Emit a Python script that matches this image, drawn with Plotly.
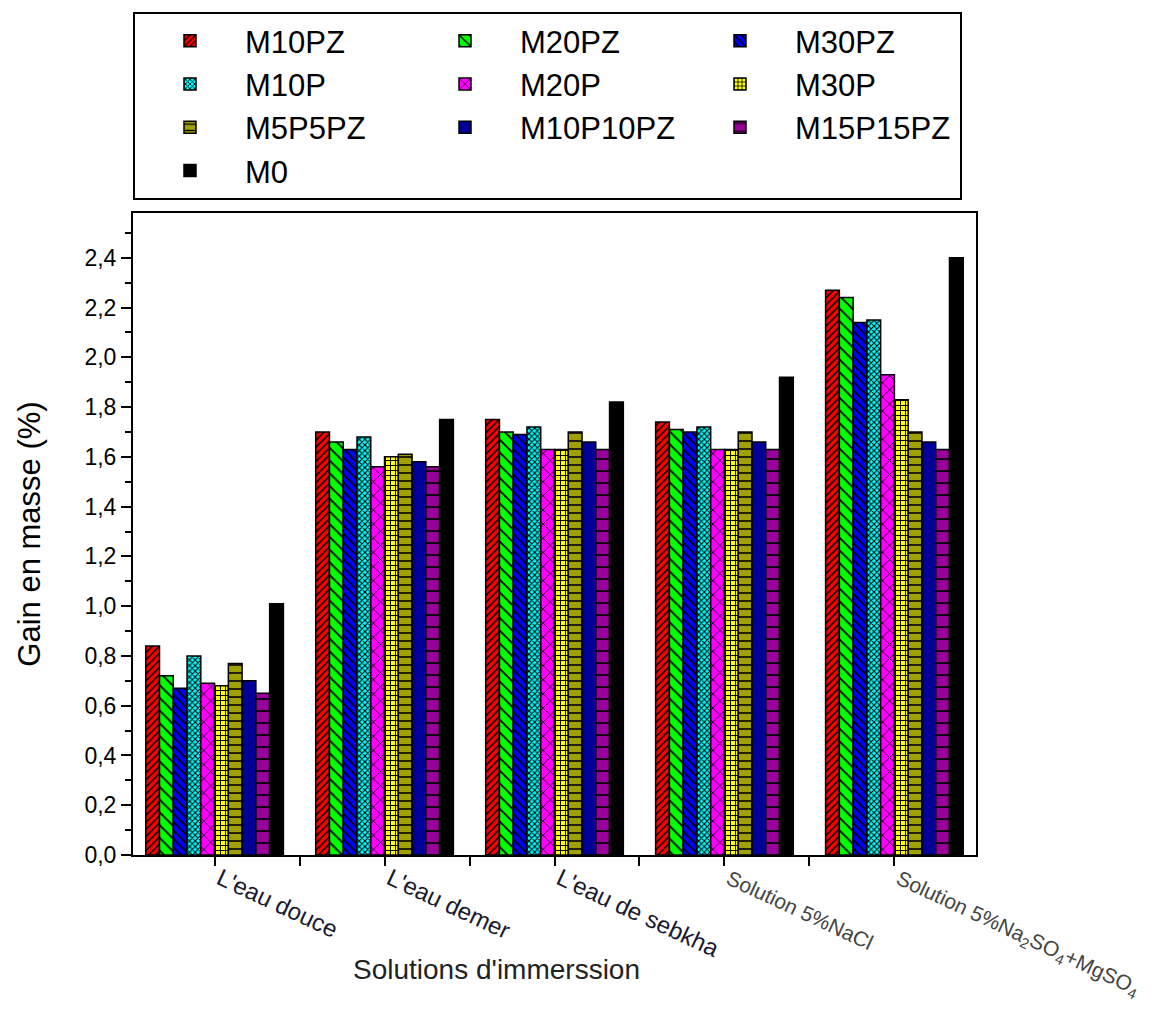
import plotly.graph_objects as go

categories = ["L'eau douce", "L'eau demer", "L'eau de sebkha", "Solution 5%NaCl",
              "Solution 5%Na<sub>2</sub>SO<sub>4</sub>+MgSO<sub>4</sub>"]

series_names = ["M10PZ", "M20PZ", "M30PZ", "M10P", "M20P", "M30P",
                "M5P5PZ", "M10P10PZ", "M15P15PZ", "M0"]

M10PZ = [0.84, 1.70, 1.75, 1.74, 2.27]
M20PZ = [0.72, 1.66, 1.70, 1.71, 2.24]
M30PZ = [0.67, 1.63, 1.69, 1.70, 2.14]
M10P = [0.80, 1.68, 1.72, 1.72, 2.15]
M20P = [0.69, 1.56, 1.63, 1.63, 1.93]
M30P = [0.68, 1.60, 1.63, 1.63, 1.83]
M5P5PZ = [0.77, 1.61, 1.70, 1.70, 1.70]
M10P10PZ = [0.70, 1.58, 1.66, 1.66, 1.66]
M15P15PZ = [0.65, 1.56, 1.63, 1.63, 1.63]
M0 = [1.01, 1.75, 1.82, 1.92, 2.40]

values = [M10PZ, M20PZ, M30PZ, M10P, M20P, M30P, M5P5PZ, M10P10PZ, M15P15PZ, M0]

colors = ["#FF0000", "#00FF00", "#0000FF", "#00FFFF", "#FF00FF", "#FFFF00",
          "#A0A000", "#000099", "#990099", "#000000"]
patterns = ["/", "\\", "\\", "x", "x", "+", "-", "", "-", ""]
pattern_sizes = [5, 9, 6, 4, 10, 5, 8, 8, 12, 8]
pattern_solid = [0.3, 0.2, 0.3, 0.45, 0.15, 0.35, 0.2, 0.2, 0.15, 0.2]

xpos = list(range(len(categories)))

# first three labels drawn a little larger/darker, last two smaller/greyer (as in the source)
tick_text = [
    f'<span style="font-size:{24 if i < 3 else 21}px;fill:{"#1a1a2e" if i < 3 else "#444"}">{c}</span>'
    for i, c in enumerate(categories)
]

fig = go.Figure()
for name, vals, col, pat, psz, psol in zip(series_names, values, colors, patterns,
                                           pattern_sizes, pattern_solid):
    fig.add_trace(go.Bar(
        name=name, x=xpos, y=vals,
        marker=dict(color=col, line=dict(color="black", width=1.5),
                    pattern=dict(shape=pat, size=psz, solidity=psol,
                                 fgcolor="black", bgcolor=col, fillmode="overlay",
                                 fgopacity=1)),
    ))

fig.update_layout(
    width=1158, height=1014,
    margin=dict(l=133, r=182, t=213, b=159, autoexpand=False),
    paper_bgcolor="white", plot_bgcolor="white",
    barmode="group", bargap=0.19, bargroupgap=0,
    separators=", ",
    font=dict(family="Liberation Sans, Arial, sans-serif", color="black"),
    showlegend=True,
    legend=dict(
        orientation="h", x=0, xanchor="left", y=1.313, yanchor="top",
        font=dict(size=31, family="Liberation Sans, Arial, sans-serif"),
        bordercolor="black", borderwidth=2, bgcolor="white",
        entrywidth=160, entrywidthmode="pixels", itemwidth=100,
        traceorder="normal", tracegroupgap=0,
    ),
)

fig.update_xaxes(
    range=[-0.48, 4.48], automargin=False,
    tickmode="array", tickvals=xpos, ticktext=tick_text,
    tickangle=25, tickfont=dict(size=22, color="#222"),
    ticklabelstandoff=-8, ticklabelshift=5,
    ticks="outside", ticklen=9, tickwidth=2, tickcolor="black",
    minor=dict(dtick=0.5, tick0=0.5, ticks="outside", ticklen=9, tickwidth=2, tickcolor="black"),
    showline=True, linecolor="black", linewidth=2, mirror=True,
    showgrid=False, zeroline=False,
)
fig.update_yaxes(
    range=[0, 2.58], dtick=0.2, tick0=0, tickformat=".1f", automargin=False,
    tickfont=dict(size=23),
    ticks="outside", ticklen=10, tickwidth=2, tickcolor="black",
    minor=dict(dtick=0.1, ticks="outside", ticklen=6, tickwidth=2, tickcolor="black"),
    showline=True, linecolor="black", linewidth=2, mirror=True,
    showgrid=False, zeroline=False,
    title=dict(text="Gain en masse (%)", font=dict(size=31), standoff=35),
)

fig.add_annotation(
    text="Solutions d'immerssion", xref="paper", yref="paper",
    x=0.431, y=-0.179, xanchor="center", yanchor="middle",
    showarrow=False, font=dict(size=28, color="#222"),
)

fig.write_html("out.html")
